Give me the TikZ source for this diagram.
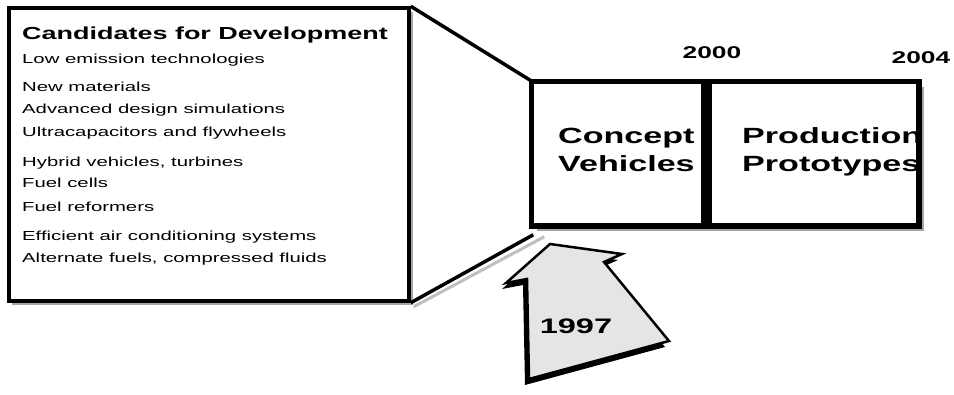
\documentclass[tikz,border=0pt]{standalone}
\usepackage{fontspec}
\setmainfont{Liberation Sans}
\newfontfamily\wf[FakeStretch=1.55]{Liberation Sans}
\usetikzlibrary{calc}
\begin{document}
\begin{tikzpicture}[x=1pt,y=-1pt,
  box/.style={draw=black, line width=3.5pt, fill=white, inner sep=0pt},
  shade/.style={fill=black!35},
  item/.style={anchor=base west, inner sep=0pt, font=\wf\fontsize{13.1}{15}\selectfont},
  titletext/.style={anchor=base west, inner sep=0pt, font=\wf\bfseries\fontsize{17.4}{20}\selectfont},
  phase/.style={anchor=base west, inner sep=0pt, font=\wf\bfseries\fontsize{22}{26}\selectfont},
  year/.style={anchor=base, inner sep=0pt, font=\wf\bfseries\fontsize{17}{20}\selectfont},
  conn/.style={draw=black, line width=3.5pt},
  connshade/.style={draw=black!25, line width=3pt}]
\useasboundingbox[fill=white] (0,0) rectangle (954,394);
% shadows
\fill[shade] (12,12) rectangle (413,305);
\fill[shade] (537,87) rectangle (924,231);
% left box
\node[box, minimum width=400pt, minimum height=293pt] (lbox) at (209,154.5) {};
\node[titletext] (t0) at (22,39) {Candidates for Development};
\node[item] (t1) at (22,63) {Low emission technologies};
\node[item] (t2) at (22,91) {New materials};
\node[item] (t3) at (22,113) {Advanced design simulations};
\node[item] (t4) at (22,136) {Ultracapacitors and flywheels};
\node[item] (t5) at (22,166) {Hybrid vehicles, turbines};
\node[item] (t6) at (22,187) {Fuel cells};
\node[item] (t7) at (22,211) {Fuel reformers};
\node[item] (t8) at (22,240) {Efficient air conditioning systems};
\node[item] (t9) at (22,262) {Alternate fuels, compressed fluids};
% right box
\node[box, minimum width=386pt, minimum height=143pt] (rbox) at (725,153.5) {};
\begin{scope}
  \clip (534,84) rectangle (916,223);
  \node[phase] (c1) at (558,143) {Concept};
  \node[phase] (c2) at (558,171) {Vehicles};
  \node[phase] (p1) at (742,143) {Production};
  \node[phase] (p2) at (742,171) {Prototypes};
\end{scope}
\draw[line width=3.5pt] (rbox.north west) rectangle (rbox.south east);
\node[fill=black, inner sep=0pt, minimum width=11pt, minimum height=143pt] (div) at (706.5,153.5) {};
\node[year] (y2000) at (712,58) {2000};
\node[year] (y2004) at (921,63) {2004};
% connectors
\draw[connshade] ($(lbox.south east)+(3,4)$) -- ($(rbox.south west)+(14,10)$);
\draw[conn] (lbox.north east) -- (rbox.north west);
\draw[conn] (lbox.south east) -- ($(rbox.south west)+(3,8)$);
% arrow 1997
\fill[black] (546,250) -- (618,260) -- (600,268) -- (665,347) -- (525,385) -- (523,285) -- (502,289) -- cycle;
\draw[fill=black!10, line width=2.5pt, line join=miter] (550,244) -- (622,254) -- (604,262) -- (669,341) -- (529,379) -- (527,279) -- (506,283) -- cycle;
\node[font=\wf\bfseries\fontsize{21}{24}\selectfont, inner sep=0pt] (y1997) at (576,326) {1997};
\end{tikzpicture}
\end{document}
